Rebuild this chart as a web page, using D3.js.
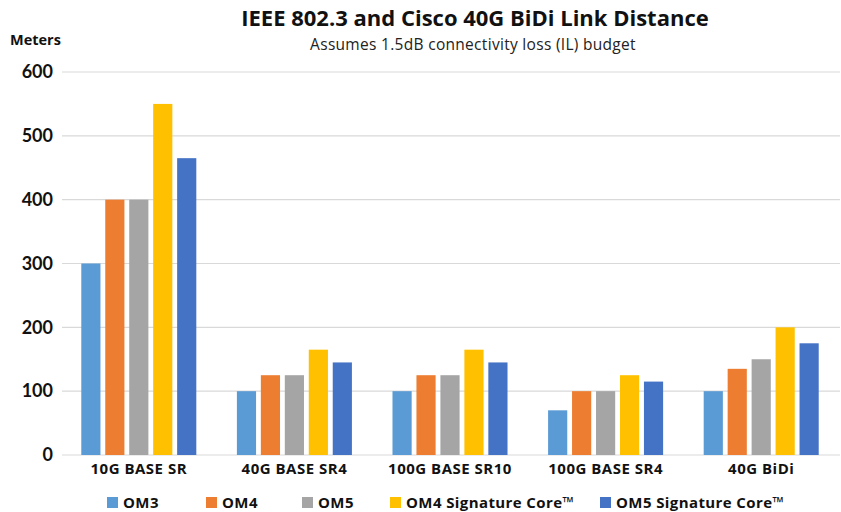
<!DOCTYPE html>
<html lang="en">
<head>
<meta charset="utf-8">
<title>IEEE 802.3 and Cisco 40G BiDi Link Distance</title>
<script src="https://cdn.jsdelivr.net/npm/d3@7"></script>
<style>
  body { margin: 0; background: #fff; }
  svg { font-family: "Open Sans", Lato, sans-serif; }
</style>
</head>
<body>
<div id="chart"></div>
<script>
// categories and series
let categories = ["10G BASE SR", "40G BASE SR4", "100G BASE SR10", "100G BASE SR4", "40G BiDi"]
let seriesNames = ["OM3", "OM4", "OM5", "OM4 Signature Core\u2122", "OM5 Signature Core\u2122"]
let om3 = [300, 100, 100, 70, 100]
let om4 = [400, 125, 125, 100, 135]
let om5 = [400, 125, 125, 100, 150]
let om4sc = [550, 165, 165, 125, 200]
let om5sc = [465, 145, 145, 115, 175]
let yTicks = [0, 100, 200, 300, 400, 500, 600]
let colors = ["#5b9bd5", "#ed7d31", "#a5a5a5", "#ffc000", "#4472c4"]

let seriesValues = [om3, om4, om5, om4sc, om5sc]

let w = 841
let h = 512
let svg = d3.select("#chart").append("svg")
    .attr("width", w)
    .attr("height", h)

let x0 = d3.scaleBand()
    .domain(categories)
    .range([61, 839])
    .paddingInner(0.23)
    .paddingOuter(0.115)
let x1 = d3.scaleBand()
    .domain(seriesNames)
    .range([0, x0.bandwidth()])
    .paddingInner(0.2)
    .paddingOuter(0.1)
let y = d3.scaleLinear()
    .domain([0, 600])
    .range([455, 72])

// gridlines
svg.append("g")
    .selectAll("line")
    .data(yTicks)
    .join("line")
      .attr("x1", 62)
      .attr("x2", 840)
      .attr("y1", d => y(d))
      .attr("y2", d => y(d))
      .attr("stroke", "#d9d9d9")
      .attr("stroke-width", 1.2)

// y axis labels
let yAxis = svg.append("g")
    .attr("transform", "translate(62,0)")
    .call(d3.axisLeft(y).tickValues(yTicks).tickSize(0).tickPadding(9))
yAxis.select(".domain").remove()
yAxis.selectAll("text")
    .attr("font-family", "Lato, sans-serif")
    .attr("font-size", 18)
    .attr("font-weight", "bold")
    .attr("fill", "#111")

// bars
let groups = svg.append("g")
    .selectAll("g")
    .data(categories)
    .join("g")
      .attr("transform", d => "translate(" + x0(d) + ",0)")
groups.selectAll("rect")
    .data((c, ci) => seriesNames.map((s, si) => ({ s: s, si: si, v: seriesValues[si][ci] })))
    .join("rect")
      .attr("x", d => x1(d.s))
      .attr("width", x1.bandwidth())
      .attr("y", d => y(d.v))
      .attr("height", d => y(0) - y(d.v))
      .attr("fill", d => colors[d.si])

// x axis labels
let xAxis = svg.append("g")
    .attr("transform", "translate(0," + y(0) + ")")
    .call(d3.axisBottom(x0).tickSize(0).tickPadding(8))
xAxis.select(".domain").remove()
xAxis.selectAll("text")
    .attr("font-family", "'Open Sans', sans-serif")
    .attr("font-size", 15)
    .attr("letter-spacing", 0.5)
    .attr("font-weight", "bold")
    .attr("fill", "#111")

// titles
svg.append("text")
    .attr("x", 475)
    .attr("y", 26)
    .attr("text-anchor", "middle")
    .attr("font-size", 22)
    .attr("font-weight", "bold")
    .attr("fill", "#111")
    .text("IEEE 802.3 and Cisco 40G BiDi Link Distance")
svg.append("text")
    .attr("x", 473)
    .attr("y", 50)
    .attr("text-anchor", "middle")
    .attr("font-size", 15.5)
    .attr("letter-spacing", 0.3)
    .attr("fill", "#222")
    .text("Assumes 1.5dB connectivity loss (IL) budget")
svg.append("text")
    .attr("x", 10)
    .attr("y", 45)
    .attr("font-size", 14.5)
    .attr("font-weight", "bold")
    .attr("fill", "#111")
    .text("Meters")

// legend
let legendX = [107, 206, 302, 390, 600]
let legend = svg.append("g")
    .selectAll("g")
    .data(seriesNames)
    .join("g")
      .attr("transform", (d, i) => "translate(" + legendX[i] + ",497)")
legend.append("rect")
    .attr("width", 11)
    .attr("height", 11)
    .attr("fill", (d, i) => colors[i])
legend.append("text")
    .attr("x", 16)
    .attr("y", 11)
    .attr("font-size", 15)
    .attr("letter-spacing", 0.4)
    .attr("font-weight", "bold")
    .attr("fill", "#111")
    .text(d => d)
</script>
</body>
</html>
